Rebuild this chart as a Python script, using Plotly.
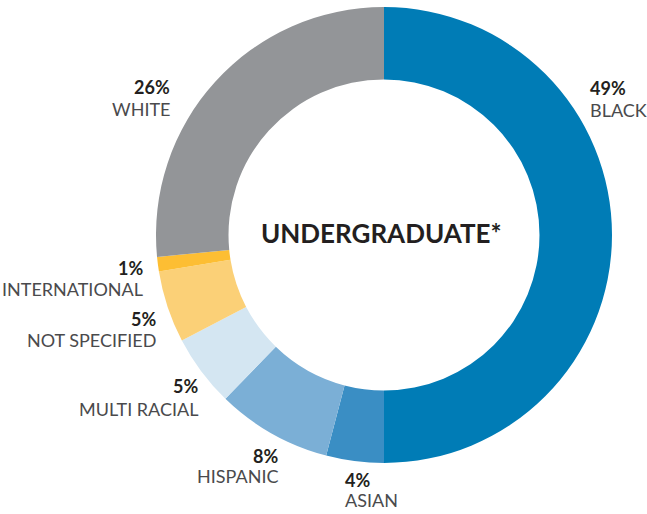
import plotly.graph_objects as go

W, H = 647, 514

categories = ["BLACK", "ASIAN", "HISPANIC", "MULTI RACIAL", "NOT SPECIFIED", "INTERNATIONAL", "WHITE"]
values = [49, 4, 8, 5, 5, 1, 26]
pct_labels = ["49%", "4%", "8%", "5%", "5%", "1%", "26%"]
colors = ["#007CB6", "#3A8EC4", "#7BAFD6", "#D4E6F2", "#FBD077", "#FDBE33", "#939598"]

# label anchor positions in pixels: (x, pct_y, name_y, anchor)
label_pos = {
    "BLACK": (588, 87.5, 109.5, "left"),
    "ASIAN": (343, 479.5, 499.5, "left"),
    "HISPANIC": (280, 455.5, 476, "right"),
    "MULTI RACIAL": (200, 386, 409, "right"),
    "NOT SPECIFIED": (158, 319, 340, "right"),
    "INTERNATIONAL": (145, 267.5, 289, "right"),
    "WHITE": (172, 87, 108.5, "right"),
}

FONT = "Lato, 'Open Sans', sans-serif"

fig = go.Figure(go.Pie(
    labels=categories,
    values=values,
    sort=False,
    direction="clockwise",
    rotation=0,
    hole=0.682,
    marker=dict(colors=colors, line=dict(width=0)),
    textinfo="none",
    hoverinfo="label+percent",
    showlegend=False,
    domain=dict(x=[156 / W, 612 / W], y=[1 - 463 / H, 1 - 7 / H]),
))

ann = []
for cat, pct in zip(categories, pct_labels):
    x, py, ny, anc = label_pos[cat]
    ann.append(dict(x=x / W, y=1 - py / H, xref="paper", yref="paper", text=f"<b>{pct}</b>",
                    showarrow=False, xanchor=anc, yanchor="middle",
                    font=dict(family=FONT, size=18, color="#231F20")))
    ann.append(dict(x=x / W, y=1 - ny / H, xref="paper", yref="paper", text=cat,
                    showarrow=False, xanchor=anc, yanchor="middle",
                    font=dict(family=FONT, size=18, color="#4A4A4C")))

ann.append(dict(x=381.5 / W, y=1 - 233.5 / H, xref="paper", yref="paper", text="<b>UNDERGRADUATE*</b>",
                showarrow=False, xanchor="center", yanchor="middle",
                font=dict(family=FONT, size=26, color="#231F20")))

fig.update_layout(
    width=W, height=H,
    margin=dict(l=0, r=0, t=0, b=0),
    paper_bgcolor="white", plot_bgcolor="white",
    annotations=ann,
)

fig.write_html("out.html", config={"displayModeBar": False},
               post_script="document.body.style.margin='0';")
